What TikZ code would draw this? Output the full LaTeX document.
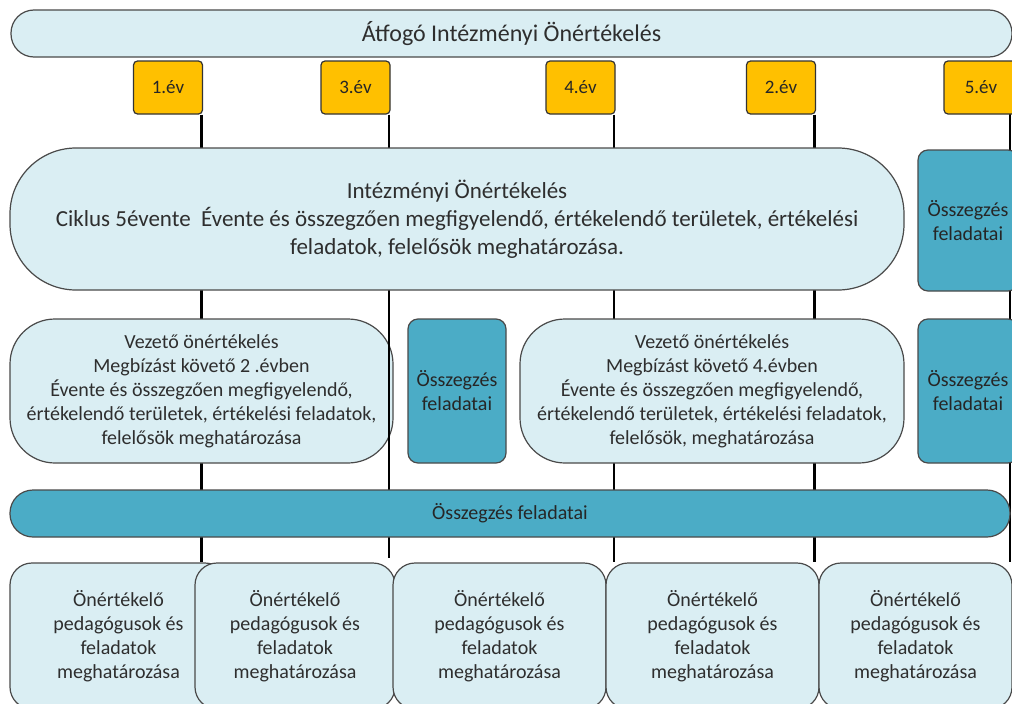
\documentclass[tikz,border=0pt]{standalone}
\usepackage{fontspec}
\setmainfont{Carlito}
\usetikzlibrary{backgrounds}
\definecolor{lightfill}{HTML}{DAEEF3}
\definecolor{tealfill}{HTML}{4BACC6}
\definecolor{yearfill}{HTML}{FFC000}
\definecolor{edgegray}{HTML}{4A4A4A}
\definecolor{txtgray}{HTML}{2E2E2E}
\tikzset{
  base/.style={draw=edgegray, line width=1.2pt, inner sep=0pt, align=center, text=txtgray},
  lightbox/.style={base, fill=lightfill},
  tealbox/.style={base, fill=tealfill, text=black!85},
  yearbox/.style={base, fill=yearfill, draw=black!80, text=black!85, rounded corners=4pt,
    minimum width=69pt, minimum height=53pt, font=\fontsize{19}{23}\selectfont},
  conn/.style={line width=2.4pt, black},
  f20/.style={font=\fontsize{20}{24}\selectfont},
  bottombox/.style={lightbox, f20, rounded corners=22pt, minimum height=146pt},
}
\begin{document}
\begin{tikzpicture}[x=1pt,y=-1pt]
\useasboundingbox (0,0) rectangle (1012,704);
\clip (0,0) rectangle (1012,704);
% top bar
\node[lightbox, rounded corners=23pt, minimum width=1001pt, minimum height=47pt,
  font=\fontsize{24}{28}\selectfont] (top) at (511.5,33.5) {Átfogó Intézményi Önértékelés};
% year boxes
\node[yearbox] (y1) at (168,87.5) {1.év};
\node[yearbox] (y3) at (355.5,87.5) {3.év};
\node[yearbox] (y4) at (580.5,87.5) {4.év};
\node[yearbox] (y2) at (781,87.5) {2.év};
\node[yearbox, minimum width=74pt] (y5) at (981,87.5) {5.év};
% big box
\node[lightbox, rounded corners=66pt, minimum width=894pt, minimum height=142pt,
  font=\fontsize{23}{28}\selectfont] (big) at (457,219)
  {Intézményi Önértékelés\\Ciklus 5évente\ \ Évente és összegzően megfigyelendő, értékelendő területek, értékelési\\feladatok, felelősök meghatározása.};
\node[tealbox, f20, rounded corners=10pt, minimum width=100pt, minimum height=141pt] (o3) at (968,220.5) {Összegzés\\feladatai};
% middle row
\node[tealbox, f20, rounded corners=10pt, minimum width=98pt, minimum height=144pt] (o1) at (457,391) {Összegzés\\feladatai};
\node[lightbox, f20, rounded corners=45pt, minimum width=384pt, minimum height=144pt] (v2) at (712,391)
  {Vezető önértékelés\\Megbízást követő 4.évben\\Évente és összegzően megfigyelendő,\\értékelendő területek, értékelési feladatok,\\felelősök, meghatározása};
\node[tealbox, f20, rounded corners=10pt, minimum width=100pt, minimum height=144pt] (o2) at (968,391) {Összegzés\\feladatai};
% bar
\node[tealbox, f20, rounded corners=23pt, minimum width=1000pt, minimum height=47pt] (bar) at (510,513.5) {Összegzés feladatai};
% bottom boxes
\node[bottombox, minimum width=217pt] (b1) at (118.5,636) {Önértékelő\\pedagógusok és\\feladatok\\meghatározása};
\node[bottombox, minimum width=200pt] (b2) at (295,636) {Önértékelő\\pedagógusok és\\feladatok\\meghatározása};
\node[bottombox, minimum width=213pt] (b3) at (499.5,636) {Önértékelő\\pedagógusok és\\feladatok\\meghatározása};
\node[bottombox, minimum width=213pt] (b4) at (712.5,636) {Önértékelő\\pedagógusok és\\feladatok\\meghatározása};
\node[bottombox, minimum width=193pt] (b5) at (915.5,636) {Önértékelő\\pedagógusok és\\feladatok\\meghatározása};
% connector start points
\coordinate (c1) at ([xshift=-1.5pt]y1.south east);
\coordinate (c3) at ([xshift=-1.5pt]y3.south east);
\coordinate (c4) at ([xshift=-1.5pt]y4.south east);
\coordinate (c2) at ([xshift=-1.5pt]y2.south east);
\coordinate (c5) at (1010,114);
\begin{scope}[on background layer]
  \draw[conn] (c1) -- (c1 |- b1.north);
  \draw[conn] (c4) -- (c4 |- b4.north);
  \draw[conn] (c2) -- (c2 |- b4.north);
  \draw[conn] (c5) -- (c5 |- b5.north);
  \node[lightbox, f20, rounded corners=45pt, minimum width=383pt, minimum height=144pt] (v1) at (201.5,391)
    {Vezető önértékelés\\Megbízást követő 2 .évben\\Évente és összegzően megfigyelendő,\\értékelendő területek, értékelési feladatok,\\felelősök meghatározása};
  \draw[conn] (c3) -- ([yshift=4pt]c3 |- b2.north);
\end{scope}
\end{tikzpicture}
\end{document}
